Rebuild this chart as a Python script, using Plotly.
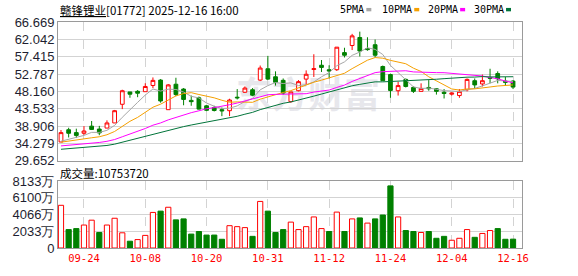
import plotly.graph_objects as go

# ---------------- data ----------------
dates = ["09-19", "09-22", "09-23", "09-24", "09-25", "09-26", "09-29", "09-30",
         "10-02", "10-03", "10-06", "10-08", "10-09", "10-10", "10-13", "10-14",
         "10-15", "10-16", "10-17", "10-20", "10-21", "10-22", "10-23", "10-24",
         "10-27", "10-28", "10-30", "10-31",
         "11-03", "11-04", "11-05", "11-06", "11-07", "11-10", "11-11", "11-12",
         "11-13", "11-14", "11-17", "11-18", "11-19", "11-20", "11-21", "11-24",
         "11-25", "11-26", "11-27", "11-28",
         "12-01", "12-02", "12-03", "12-04", "12-05", "12-08", "12-09", "12-10",
         "12-11", "12-12", "12-15", "12-16"]

opens = [34.64, 37.92, 37.15, 36.97, 38.87, 38.10, 38.36, 39.73, 44.71, 48.00,
         48.17, 48.07, 49.73, 51.17, 43.27, 50.06, 48.77, 45.75, 46.44, 44.30,
         43.86, 43.27, 43.00, 46.60, 47.92, 48.59, 51.17, 54.19, 52.05, 51.10,
         45.41, 48.33, 51.43, 54.00, 55.13, 53.93, 53.93, 58.50, 60.39, 62.54,
         59.60, 60.60, 54.79, 52.64, 48.33, 51.35, 49.20, 48.16, 49.20, 48.85,
         47.92, 47.40, 47.04, 48.59, 51.00, 50.14, 51.87, 52.90, 50.90, 50.90]
highs = [37.84, 38.44, 38.20, 38.87, 40.25, 38.95, 40.42, 43.20, 48.59, 48.00,
         48.50, 50.32, 51.87, 51.43, 50.10, 51.79, 49.03, 47.04, 46.78, 44.56,
         44.30, 43.86, 46.19, 48.77, 49.46, 49.03, 55.05, 57.63, 53.50, 51.60,
         48.00, 51.17, 53.76, 58.06, 56.52, 55.13, 59.95, 59.80, 63.50, 64.10,
         62.60, 62.00, 55.05, 52.90, 50.75, 51.60, 49.46, 50.30, 51.17, 49.03,
         48.77, 47.92, 48.77, 51.60, 51.60, 52.64, 54.19, 53.50, 52.00, 51.17]
lows = [34.64, 35.85, 35.70, 36.55, 37.84, 36.45, 38.36, 39.73, 43.42, 46.44,
        46.60, 48.07, 49.03, 45.15, 43.27, 46.88, 44.45, 44.31, 43.27, 42.83,
        42.80, 41.54, 41.54, 46.00, 47.74, 46.88, 50.90, 51.17, 49.70, 47.30,
        45.15, 48.16, 49.88, 52.00, 53.33, 51.60, 53.60, 57.20, 59.18, 57.47,
        59.00, 57.20, 51.00, 46.44, 47.04, 49.20, 47.74, 48.16, 48.33, 47.30,
        46.26, 47.04, 46.44, 48.16, 48.85, 49.46, 50.32, 50.30, 49.60, 48.77]
closes = [37.15, 36.97, 36.40, 37.58, 38.00, 37.07, 39.73, 43.00, 48.33, 47.40,
          47.66, 49.46, 51.09, 45.59, 49.88, 47.30, 46.00, 45.41, 43.42, 43.10,
          43.05, 42.95, 45.85, 46.44, 49.03, 47.14, 54.38, 51.43, 50.58, 47.70,
          48.00, 50.75, 52.72, 54.20, 54.55, 53.60, 59.95, 57.80, 62.97, 58.92,
          59.30, 57.80, 51.00, 48.40, 49.70, 49.46, 48.16, 48.94, 48.85, 48.16,
          47.60, 47.70, 48.16, 51.35, 49.88, 51.00, 51.65, 51.50, 50.58, 49.30]

# volume in 万 shares
volumes = [5188, 2240, 2358, 2790, 3380, 1886, 2790, 3615, 1847, 825,
           1022, 1532, 4323, 4480, 4952, 3419, 3537, 1690, 2004, 1572,
           1572, 1061, 2712, 2594, 2476, 1415, 5659, 4480, 1886, 2240,
           3144, 2240, 2594, 3773, 2358, 2004, 4362, 2004, 3537, 3655,
           3026, 3537, 4009, 7546, 3773, 2122, 2004, 1886, 2004, 1179,
           1415, 943, 1179, 2240, 1297, 1769, 2122, 2358, 1061, 1075]

ma5_early = [34.85, 35.35, 35.75, 36.40]
ma10_early = [34.59, 34.85, 35.06, 35.39, 35.77, 36.04, 36.58, 37.45, 38.85]
ma20_early = [33.60, 33.77, 33.92, 34.12, 34.34, 34.52, 34.83, 35.30, 36.04, 36.74,
              37.45, 38.25, 39.13, 39.73, 40.55, 41.24, 41.87, 42.47, 42.97]
ma30_early = [32.70, 32.85, 32.98, 33.15, 33.33, 33.48, 33.72, 34.07, 34.60, 35.10,
              35.61, 36.17, 36.79, 37.23, 37.81, 38.30, 38.75, 39.18, 39.54, 39.90,
              40.25, 40.60, 41.04, 41.51, 42.06, 42.55, 43.28, 43.91, 44.51]

price_ticks = [29.652, 34.279, 38.906, 43.533, 48.160, 52.787, 57.415, 62.042, 66.669]
vol_ticks = [0, 2033, 4066, 6100, 8133]
vol_tick_text = ["0", "2033万", "4066万", "6100万", "8133万"]
date_ticks = ["09-24", "10-08", "10-20", "10-31", "11-12", "11-24", "12-04", "12-16"]

title_text = "<u>赣锋锂业</u>[01772] 2025-12-16 16:00"
vol_title = "成交量:10753720"
ma_names = ["5PMA", "10PMA", "20PMA", "30PMA"]
ma_colors = ["#a6a6a6", "#f5a000", "#ff00ff", "#00743a"]


def moving_average(vals, n, early):
    out = list(early)
    for i in range(n - 1, len(vals)):
        out.append(sum(vals[i - n + 1:i + 1]) / n)
    return out


ma_series = [moving_average(closes, 5, ma5_early),
             moving_average(closes, 10, ma10_early),
             moving_average(closes, 20, ma20_early),
             moving_average(closes, 30, ma30_early)]

RED = "#ff0000"
GREEN = "#008000"

# volume colour: up vs previous close
up = []
for i in range(len(closes)):
    if i == 0:
        up.append(closes[i] >= opens[i])
    else:
        up.append(closes[i] >= closes[i - 1])

# ---------------- geometry ----------------
W, H = 578, 276
ML, MR, MT, MB = 57, 56, 22, 21
PW = W - ML - MR
PH = H - MT - MB
main_top_px, main_bot_px = 22, 165
vol_top_px, vol_bot_px = 186, 255


def px_to_py(py):
    return (H - MB - py) / PH


def px_to_px(px):
    return (px - ML) / PW


fig = go.Figure()

fig.add_trace(go.Candlestick(
    x=dates, open=opens, high=highs, low=lows, close=closes,
    increasing=dict(line=dict(color=RED, width=1), fillcolor="#ffffff"),
    decreasing=dict(line=dict(color=GREEN, width=1), fillcolor=GREEN),
    whiskerwidth=0, showlegend=False, hoverinfo="skip",
    xaxis="x", yaxis="y"))

for name, col, vals in zip(ma_names, ma_colors, ma_series):
    fig.add_trace(go.Scatter(x=dates, y=vals, mode="lines", name=name,
                             line=dict(color=col, width=1), showlegend=False,
                             hoverinfo="skip", xaxis="x", yaxis="y"))

fig.add_trace(go.Bar(
    x=dates, y=volumes, width=0.68,
    marker=dict(color=["#ffffff" if u else GREEN for u in up],
                line=dict(color=[RED if u else GREEN for u in up], width=1)),
    showlegend=False, hoverinfo="skip", xaxis="x2", yaxis="y2"))

xr = [-0.39, 60.17]
grid = "#d3d3d3"
border = "#9a9a9a"
common_x = dict(type="category", range=xr, tickmode="array", tickvals=date_ticks,
                showgrid=True, gridcolor=grid, griddash="dash", gridwidth=1,
                showline=True, mirror=True, linecolor=border, linewidth=1,
                ticks="", zeroline=False, fixedrange=True)

fig.update_layout(
    width=W, height=H,
    margin=dict(l=ML, r=MR, t=MT, b=MB, pad=0),
    paper_bgcolor="#ffffff", plot_bgcolor="rgba(0,0,0,0)",
    showlegend=False,
    bargap=0.3,
    xaxis=dict(**common_x, domain=[0, 1], anchor="y", showticklabels=False,
               rangeslider=dict(visible=False)),
    yaxis=dict(domain=[px_to_py(main_bot_px), px_to_py(main_top_px)],
               range=[price_ticks[0], price_ticks[-1]], tickmode="array",
               tickvals=price_ticks, ticktext=["%.3f" % v for v in price_ticks],
               showgrid=True, gridcolor=grid, gridwidth=1, zeroline=False,
               showline=True, mirror=True, linecolor=border, linewidth=1,
               ticks="", ticklen=0,
               tickfont=dict(family="Liberation Sans, Arial", size=13, color="#1e1e30"),
               anchor="x", fixedrange=True),
    xaxis2=dict(**common_x, domain=[0, 1], anchor="y2", showticklabels=True,
                tickfont=dict(family="DejaVu Sans Mono, monospace", size=10.5, color=RED)),
    yaxis2=dict(domain=[px_to_py(vol_bot_px), px_to_py(vol_top_px)],
                range=[0, vol_ticks[-1]], tickmode="array", tickvals=vol_ticks,
                ticktext=vol_tick_text,
                showgrid=True, gridcolor=grid, gridwidth=1, zeroline=False,
                showline=True, mirror=True, linecolor=border, linewidth=1,
                ticks="", ticklen=0,
                tickfont=dict(family="Liberation Sans, Arial", size=13, color="#1e1e30"),
                anchor="x2", fixedrange=True),
)

annotations = [
    dict(text=title_text, xref="paper", yref="paper", x=px_to_px(57), y=px_to_py(10),
         xanchor="left", yanchor="middle", showarrow=False,
         font=dict(family="Noto Sans CJK SC", size=11.5, color="#000000")),
    dict(text=vol_title, xref="paper", yref="paper", x=px_to_px(57), y=px_to_py(178),
         xanchor="left", yanchor="middle", showarrow=False,
         font=dict(family="Noto Sans CJK SC", size=11.5, color="#000000")),
]
shapes = [
    dict(type="rect", xref="paper", yref="paper", layer="below",
         x0=px_to_px(225), x1=px_to_px(390), y0=px_to_py(122), y1=px_to_py(78),
         line=dict(width=0), fillcolor="rgba(0,0,0,0)",
         label=dict(text="<b>东方财富</b>", font=dict(family="Noto Sans CJK SC", size=36,
                                                   color="#e7e7ec"),
                    textposition="middle center")),
]

legend_text_left = [338, 380, 426, 472]
legend_sq_left = [366, 414, 460, 506]
for name, col, tx, sx in zip(ma_names, ma_colors, legend_text_left, legend_sq_left):
    annotations.append(dict(text=name, xref="paper", yref="paper", x=px_to_px(tx),
                            y=px_to_py(9.5), xanchor="left", yanchor="middle",
                            showarrow=False,
                            font=dict(family="DejaVu Sans Mono, monospace", size=10,
                                      color="#000000")))
    shapes.append(dict(type="rect", xref="paper", yref="paper",
                       x0=px_to_px(sx), x1=px_to_px(sx + 5),
                       y0=px_to_py(11), y1=px_to_py(7.5),
                       line=dict(width=0), fillcolor=col))

fig.update_layout(annotations=annotations, shapes=shapes)

fig.write_html("out.html")
